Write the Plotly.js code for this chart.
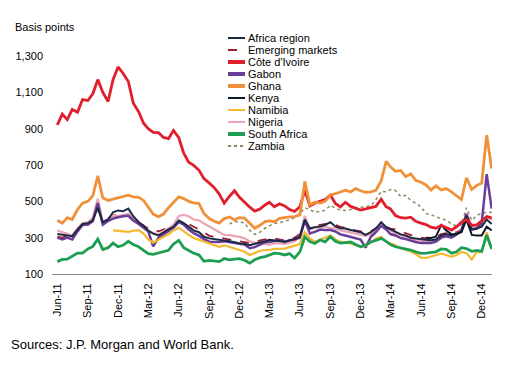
<!DOCTYPE html>
<html><head><meta charset="utf-8">
<script src="https://cdn.plot.ly/plotly-3.0.1.min.js"></script>
<style>html,body{margin:0;padding:0;background:#fff}#chart{width:513px;height:367px}</style>
</head><body><div id="chart"></div>
<script>
const dates = ["2011-06-01","2011-06-16","2011-07-01","2011-07-16","2011-08-01","2011-08-16","2011-09-01","2011-09-16","2011-10-01","2011-10-16","2011-11-01","2011-11-16","2011-12-01","2011-12-16",
"2012-01-01","2012-01-16","2012-02-01","2012-02-16","2012-03-01","2012-03-16","2012-04-01","2012-04-16","2012-05-01","2012-05-16","2012-06-01","2012-06-16","2012-07-01","2012-07-16","2012-08-01","2012-08-16","2012-09-01","2012-09-16","2012-10-01","2012-10-16","2012-11-01","2012-11-16","2012-12-01","2012-12-16",
"2013-01-01","2013-01-16","2013-02-01","2013-02-16","2013-03-01","2013-03-16","2013-04-01","2013-04-16","2013-05-01","2013-05-16","2013-06-01","2013-06-16","2013-07-01","2013-07-16","2013-08-01","2013-08-16","2013-09-01","2013-09-16","2013-10-01","2013-10-16","2013-11-01","2013-11-16","2013-12-01","2013-12-16",
"2014-01-01","2014-01-16","2014-02-01","2014-02-16","2014-03-01","2014-03-16","2014-04-01","2014-04-16","2014-05-01","2014-05-16","2014-06-01","2014-06-16","2014-07-01","2014-07-16","2014-08-01","2014-08-16","2014-09-01","2014-09-16","2014-10-01","2014-10-16","2014-11-01","2014-11-16","2014-12-01","2014-12-16","2014-12-31"];

const africaRegion = [320,315,314,308,345,375,380,395,465,385,400,440,450,445,460,418,385,365,338,322,312,330,345,360,395,380,358,340,330,305,296,292,290,288,280,275,268,266,258,266,272,280,288,285,280,278,285,292,305,400,350,358,362,370,385,362,352,350,342,335,330,315,330,350,385,358,345,330,318,312,300,296,290,288,286,290,312,320,312,318,335,420,345,350,360,400,375];
const emergingMarkets = [305,300,310,300,335,365,370,390,455,400,405,420,430,425,420,405,385,370,350,340,335,345,355,370,390,385,375,360,345,330,310,305,300,295,290,285,280,275,270,275,285,290,295,295,290,285,290,300,320,380,355,365,370,375,380,370,360,355,345,340,335,330,335,350,370,360,350,345,335,325,315,305,300,295,292,300,320,325,320,330,345,410,360,365,380,420,400];
const coteDIvoire = [920,980,950,1006,990,1060,1055,1092,1170,1100,1050,1170,1240,1205,1160,1040,993,930,900,880,878,852,845,890,850,765,715,698,671,625,600,575,540,490,528,558,522,495,468,446,458,480,495,470,487,475,455,445,470,560,475,490,500,510,534,488,469,495,472,462,452,458,465,472,512,470,458,422,410,408,413,390,380,372,358,352,368,355,342,360,385,400,368,370,390,415,410];
const gabon = [300,290,300,290,335,370,372,392,490,372,392,405,412,418,420,395,375,355,335,252,300,318,335,355,385,372,345,325,310,292,278,275,276,280,276,270,266,262,242,248,262,275,276,282,285,276,286,290,300,395,323,332,345,342,342,334,318,312,305,296,290,245,305,330,365,345,320,312,298,292,282,276,270,268,270,278,300,308,300,318,340,430,345,350,380,650,460];
const ghana = [396,380,410,400,455,490,500,530,640,520,505,512,522,528,534,525,522,505,470,430,415,430,465,497,525,515,500,492,488,433,405,390,380,405,414,398,410,408,378,352,368,388,392,388,406,412,415,416,425,610,480,495,490,500,534,542,552,561,552,570,558,550,552,560,612,720,690,665,670,636,652,616,605,590,562,585,562,570,552,530,510,630,565,588,600,865,680];
const kenya = [300,298,305,370,340,318,322,330,400,315,312,312,360,340];
const namibia = [340,338,335,332,338,342,322,290,272,290,305,318,340,355,333,315,298,288,277,265,258,250,258,250,240,232,222,205,215,228,232,232,238,241,240,248,255,265,330,296,278,290,298,312,290,278,272,268,258,252,255,276,294,305,278,268,258,242,235,224,210,190,188,195,205,212,205,195,205,222,215,180,222,220,330,240];
const nigeria = [340,330,318,312,352,380,385,410,515,388,402,422,418,425,432,412,388,360,340,325,318,335,350,372,420,425,418,400,395,378,362,345,330,315,314,310,304,296,280,272,270,265,260,268,270,265,272,280,310,420,345,352,360,362,352,350,340,335,328,322,318,310,320,340,380,355,340,325,315,305,296,290,282,280,282,288,305,312,305,320,345,435,360,365,385,420,398];
const southAfrica = [168,180,182,200,215,215,238,252,292,235,245,270,250,258,280,262,250,230,212,208,215,222,230,265,285,245,228,215,205,170,175,172,168,185,178,182,185,176,160,178,190,196,204,215,212,205,212,188,222,305,278,268,287,277,305,280,270,272,276,262,250,258,276,285,296,280,262,250,245,240,232,222,214,215,220,222,238,236,215,222,245,240,225,230,225,315,238];
const zambia = [375,390,385,382,340,318,330,352,365,378,382,388,398,410,432,465,455,440,445,450,478,462,452,450,455,462,468,470,475,508,555,552,565,560,526,533,505,490,470,432,426,415,404,396,375,365,372,465,395,424,432,440,440];

const yTicks = [100,300,500,700,900,1100,1300];

const series = [
  {name:"Africa region", y:africaRegion, color:"#1b2a44", width:2, dash:"solid", lw:2},
  {name:"Emerging markets", y:emergingMarkets, color:"#9b1c31", width:1.8, dash:"dash", lw:2},
  {name:"Côte d'Ivoire", y:coteDIvoire, color:"#e01f2d", width:2.8, dash:"solid", lw:4},
  {name:"Gabon", y:gabon, color:"#6a3d9a", width:2.5, dash:"solid", lw:4},
  {name:"Ghana", y:ghana, color:"#f0913a", width:2.8, dash:"solid", lw:4},
  {name:"Kenya", y:kenya, color:"#0e1a2c", width:2, dash:"solid", lw:2},
  {name:"Namibia", y:namibia, color:"#f5b82e", width:2.2, dash:"solid", lw:2},
  {name:"Nigeria", y:nigeria, color:"#eba5b5", width:2.2, dash:"solid", lw:2},
  {name:"South Africa", y:southAfrica, color:"#1e9e52", width:2.8, dash:"solid", lw:4},
  {name:"Zambia", y:zambia, color:"#8a8a5c", width:1.5, dash:"dot", lw:2}
];
const drawOrder = ["Zambia","Emerging markets","Nigeria","Gabon","Africa region","Kenya","Namibia","South Africa","Côte d'Ivoire","Ghana"];

const traces = drawOrder.map(n => {
  const s = series.find(t => t.name === n);
  return {type:"scatter", mode:"lines", name:s.name, x:dates.slice(dates.length - s.y.length), y:s.y,
    line:{color:s.color, width:s.width, dash:s.dash}, showlegend:false, hoverinfo:"skip"};
});

// geometry of the plot area in pixels
const L=52, R=21, T=56, B=93, W=513, H=367;
const pw = W-L-R, ph = H-T-B;
const px = v => (v-L)/pw;
const py = v => (H-B-v)/ph;

const shapes = [], annotations = [];
series.forEach((s,k) => {
  const yy = py(38 + 12*k);
  shapes.push({type:"line", xref:"paper", yref:"paper", x0:px(228), x1:px(245), y0:yy, y1:yy,
    line:{color:s.color, width:s.lw, dash:s.dash}});
  annotations.push({xref:"paper", yref:"paper", x:px(246), y:yy, xanchor:"left", yanchor:"middle",
    text:s.name, showarrow:false, font:{size:11, color:"#000"}});
});
annotations.push({xref:"paper", yref:"paper", x:px(13), y:py(27), xanchor:"left", yanchor:"middle",
  text:"Basis points", showarrow:false, font:{size:11, color:"#000"}});
annotations.push({xref:"paper", yref:"paper", x:px(9), y:py(344), xanchor:"left", yanchor:"middle",
  text:"Sources: J.P. Morgan and World Bank.", showarrow:false, font:{size:13, color:"#000"}});

const layout = {
  width:W, height:H, margin:{l:L, r:R, t:T, b:B, pad:0},
  paper_bgcolor:"#fff", plot_bgcolor:"#fff",
  font:{family:"Liberation Sans, Arial, sans-serif", size:11, color:"#000"},
  separators:".,",
  showlegend:false,
  xaxis:{type:"date", range:["2011-05-16","2015-01-01"], tick0:"2011-06-01", dtick:"M3", tickformat:"%b-%y",
    tickangle:-90, showgrid:false, zeroline:false, showline:true, linecolor:"#8c8c8c", linewidth:1,
    ticks:"", ticklabelstandoff:4, tickfont:{size:11, color:"#000"}},
  yaxis:{range:[100,1300], tickvals:yTicks, tickformat:",d", showgrid:false, zeroline:false, showline:false,
    ticks:"", ticklabelstandoff:8, tickfont:{size:11, color:"#000"}},
  shapes:shapes, annotations:annotations
};
Plotly.newPlot("chart", traces, layout, {staticPlot:true, displayModeBar:false});
</script></body></html>
